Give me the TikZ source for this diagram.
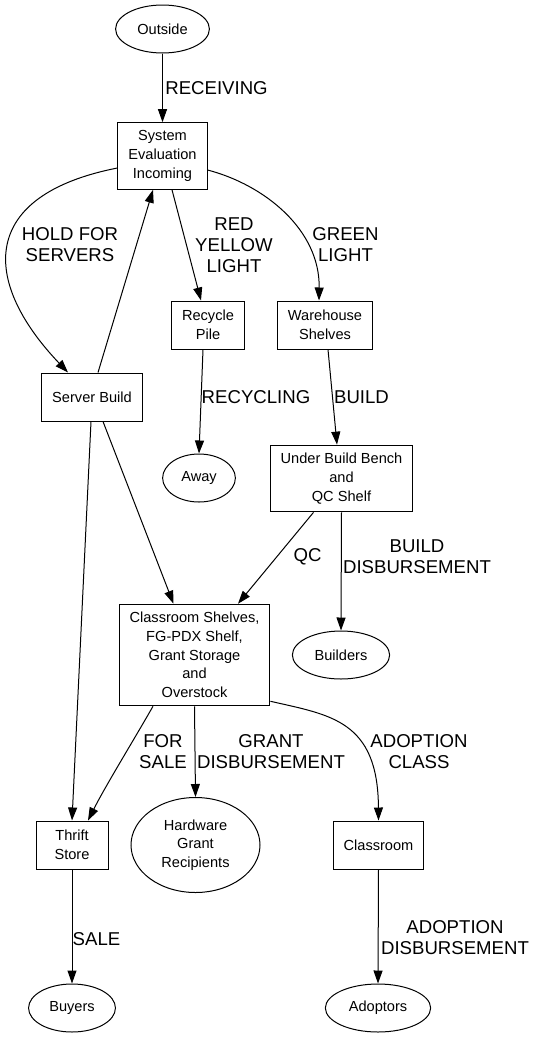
\documentclass[tikz,border=0pt]{standalone}
\usepackage{fontspec}
\setmainfont{Liberation Sans}
\usetikzlibrary{arrows.meta,shapes.geometric}
\tikzset{box/.style={draw,line width=1pt,align=center,minimum width=72pt,
  minimum height=48pt,inner xsep=10.5pt,inner ysep=8pt,
  font=\fontsize{14.6}{18.7}\selectfont},
  oval/.style={draw,ellipse,line width=1pt,align=center,minimum width=72pt,
  minimum height=48pt,inner xsep=8pt,inner ysep=4pt,
  font=\fontsize{14.6}{18.7}\selectfont},
  lbl/.style={align=center,inner sep=0pt,font=\fontsize{18.6}{21}\selectfont},
  flow/.style={line width=1pt,-{Triangle[length=13pt,width=9pt]}}}

\begin{document}
\begin{tikzpicture}[x=1pt,y=-1pt]
  \useasboundingbox (0,0) rectangle (536,1037);
  % places
  \node[oval] (out) at (162.5,29) {Outside};
  \node[box] (sys) at (162.5,156) {System\\Evaluation\\Incoming};
  \node[box] (srv) at (92,397) {Server Build};
  \node[box] (rec) at (208,325) {Recycle\\Pile};
  \node[box] (wh) at (325,325) {Warehouse\\Shelves};
  \node[oval] (away) at (199,478) {Away};
  \node[box] (ubb) at (341.5,478.5) {Under Build Bench\\and\\QC Shelf};
  \node[box] (css) at (194.5,655) {Classroom Shelves,\\FG-PDX Shelf,\\Grant Storage\\and\\Overstock};
  \node[oval] (bld) at (341,655) {Builders};
  \node[box] (thr) at (72,845) {Thrift\\Store};
  \node[oval,minimum width=129pt,minimum height=95pt] (hgr) at (195.5,845) {Hardware\\Grant\\Recipients};
  \node[box] (cls) at (378.5,845) {Classroom};
  \node[oval] (buy) at (72,1008) {Buyers};
  \node[oval] (ado) at (378,1008) {Adoptors};

  % flows
  \draw[flow] (out.south) -- (sys.north);
  \draw[flow] ([yshift=-12pt]sys.west) .. controls (-20,195) and (-20,280) .. ([xshift=-24pt]srv.north);
  \draw[flow] ([xshift=6pt]srv.north) -- ([xshift=-9.5pt]sys.south);
  \draw[flow] ([xshift=9.5pt]sys.south) -- ([xshift=-7pt]rec.north);
  \draw[flow] ([yshift=-14pt]sys.east) .. controls (265,185) and (320,230) .. ([xshift=-6pt]wh.north);
  \draw[flow] ([xshift=-5pt]rec.south) -- (away.north);
  \draw[flow] ([xshift=3pt]wh.south) -- ([xshift=-4.5pt]ubb.north);
  \draw[flow] ([xshift=11pt]srv.south) -- ([xshift=-21pt]css.north);
  \draw[flow] ([xshift=-1pt]srv.south) -- (thr.north);
  \draw[flow] ([xshift=-28pt]ubb.south) -- ([xshift=43.5pt]css.north);
  \draw[flow] (ubb.south) -- (bld.north);
  \draw[flow] ([xshift=-41.5pt]css.south) .. controls (132,743) and (106,785) .. ([xshift=16pt]thr.north);
  \draw[flow] (css.south) -- (hgr.north);
  \draw[flow] ([yshift=5pt]css.south east) .. controls (330,715) and (378,720) .. (cls.north);
  \draw[flow] (thr.south) -- (buy.north);
  \draw[flow] (cls.south) -- (ado.north);

  % flow names
  \node[lbl] (lrecv) at (216.5,88) {RECEIVING};
  \node[lbl] (lhold) at (70,245) {HOLD FOR\\SERVERS};
  \node[lbl] (lred) at (234,245) {RED\\YELLOW\\LIGHT};
  \node[lbl] (lgreen) at (345.5,245) {GREEN\\LIGHT};
  \node[lbl] (lrecyc) at (256,397) {RECYCLING};
  \node[lbl] (lbuild) at (361.5,397) {BUILD};
  \node[lbl] (lqc) at (307.5,557) {QC};
  \node[lbl] (lbdis) at (417,557) {BUILD\\DISBURSEMENT};
  \node[lbl] (lforsale) at (163,752) {FOR\\SALE};
  \node[lbl] (lgrant) at (271,752) {GRANT\\DISBURSEMENT};
  \node[lbl] (ladopt) at (419,752) {ADOPTION\\CLASS};
  \node[lbl] (lsale) at (96.5,939) {SALE};
  \node[lbl] (ladis) at (455,938) {ADOPTION\\DISBURSEMENT};
\end{tikzpicture}
\end{document}
